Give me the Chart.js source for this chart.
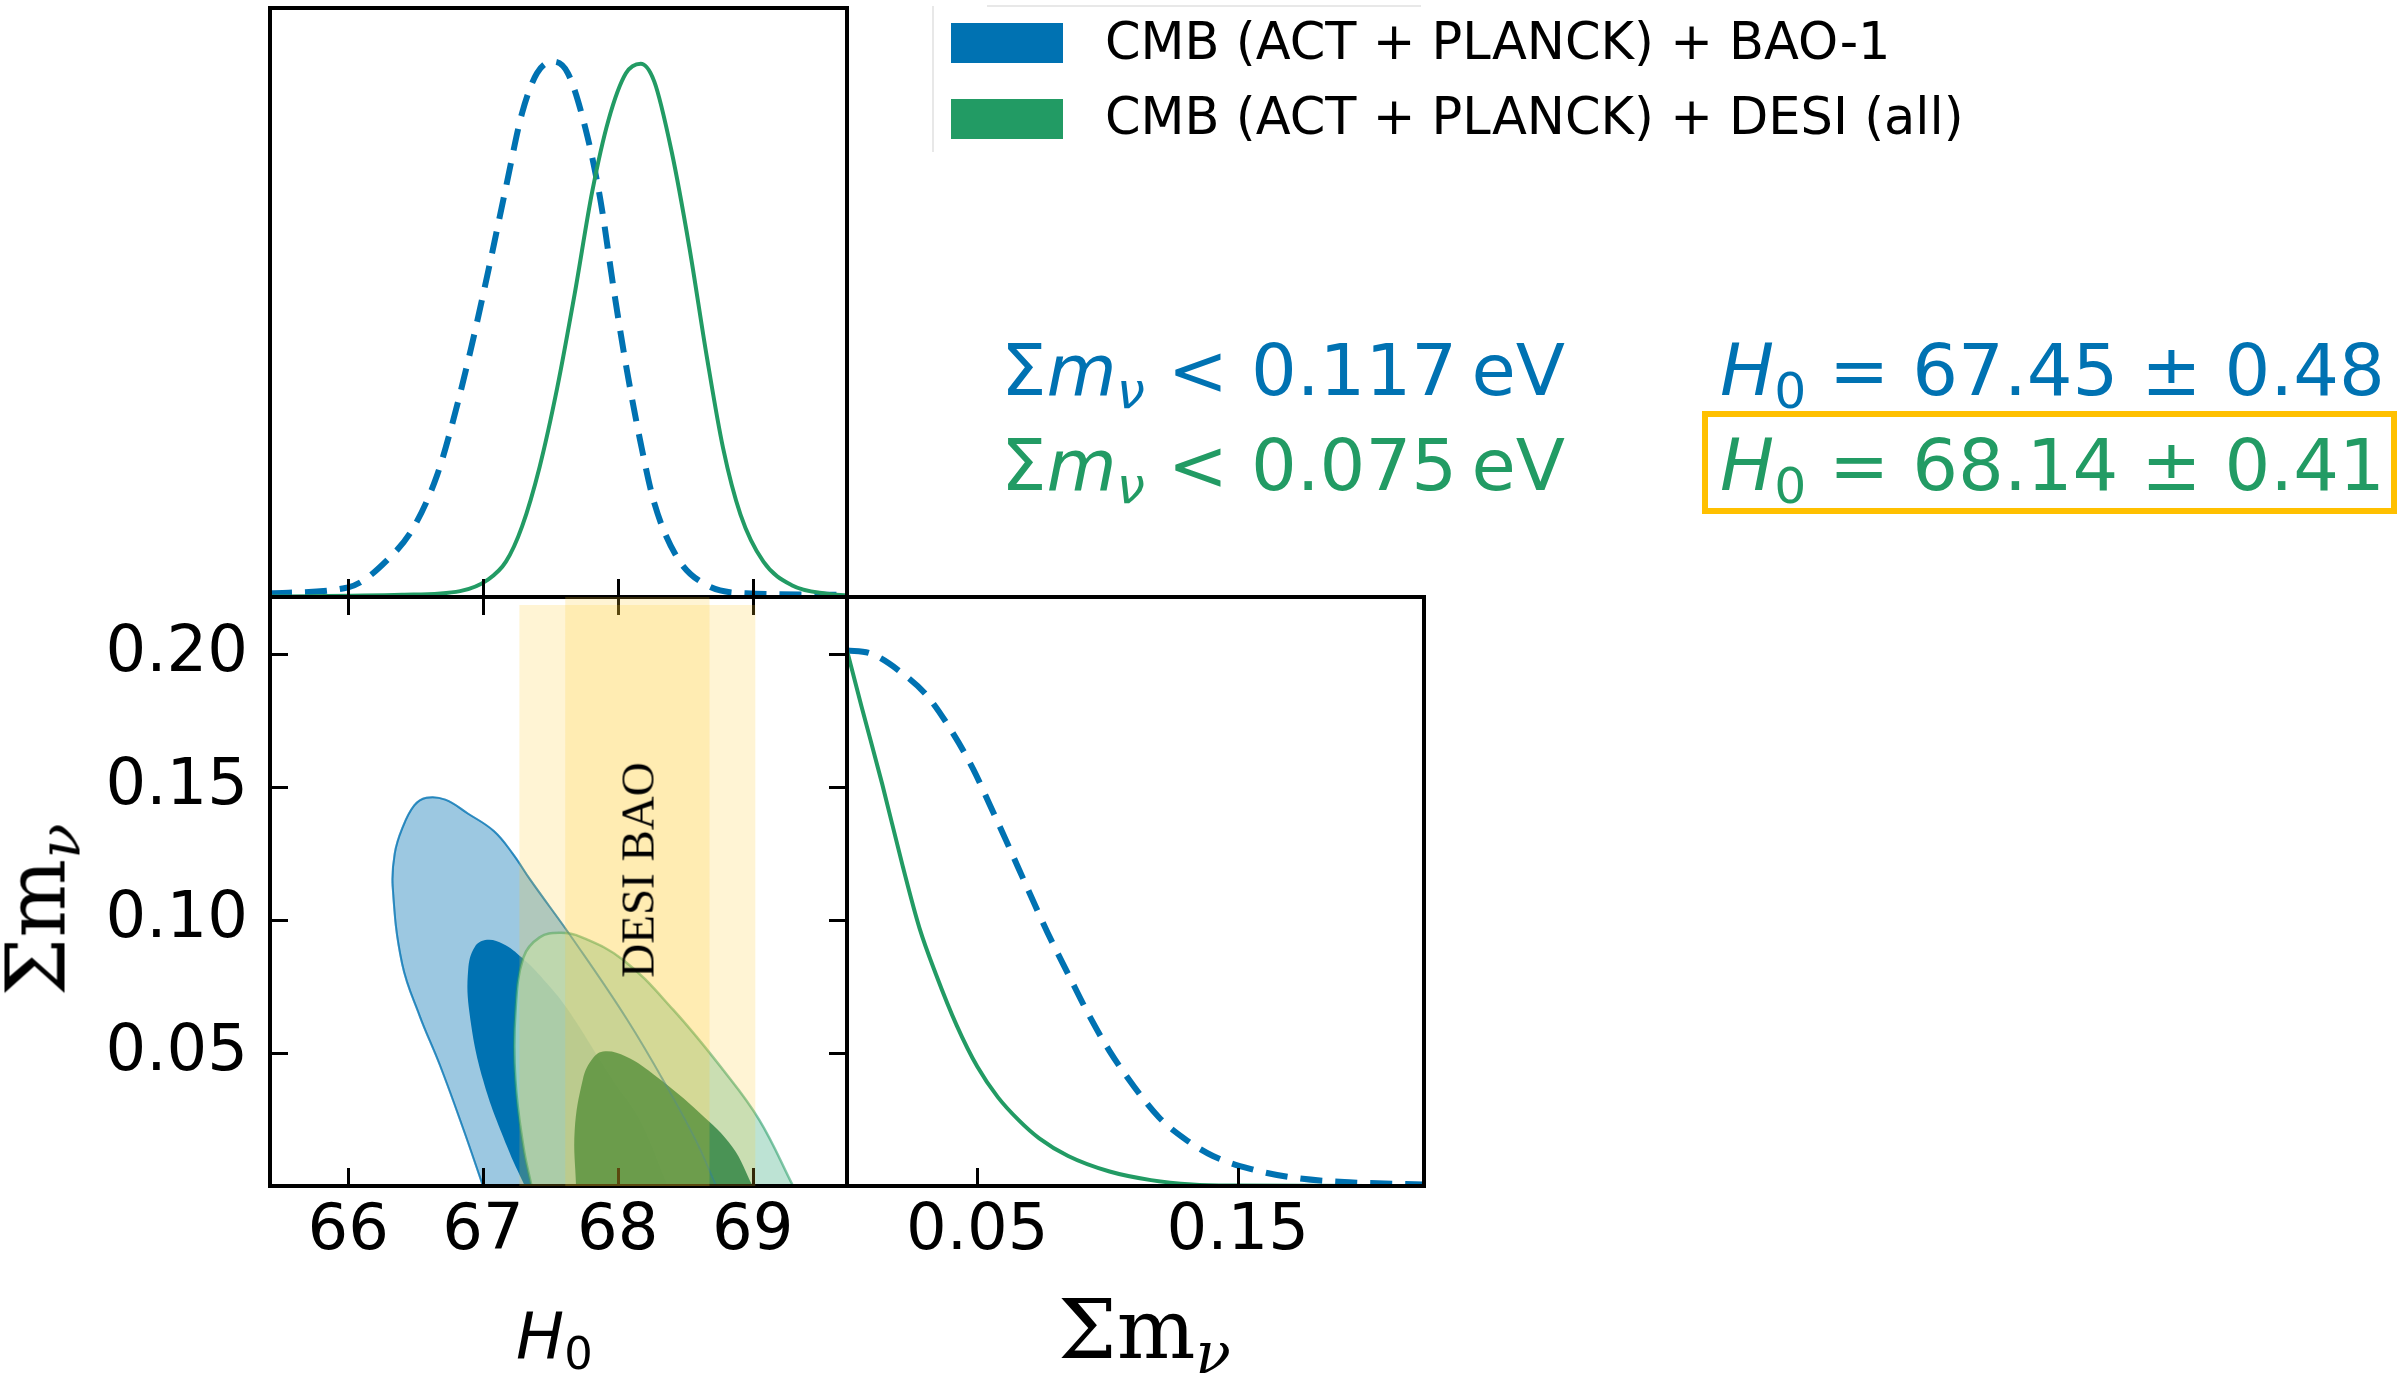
<!DOCTYPE html>
<html>
<head>
<meta charset="utf-8">
<script src="https://cdn.jsdelivr.net/npm/chart.js@4.4.1/dist/chart.umd.min.js"></script>
<style>
  html, body { margin: 0; padding: 0; background: #fff; }
  #wrap { position: relative; width: 2407px; height: 1383px; overflow: hidden; font-family: "DejaVu Sans", sans-serif; }
  canvas { position: absolute; left: 0; top: 0; }
  .t { position: absolute; white-space: nowrap; line-height: 1; }
  .s { font-size: 0.7em; position: relative; top: 0.25em; }
  .serif { font-family: "DejaVu Serif", serif; }
  .times { font-family: "Liberation Serif", "Times New Roman", serif; }
  .rot { transform: translate(-50%, -50%) rotate(-90deg); }
</style>
</head>
<body>
<div id="wrap">
  <canvas id="cTop" width="2407" height="1383"></canvas>
  <canvas id="c2d" width="2407" height="1383"></canvas>
  <canvas id="cRight" width="2407" height="1383"></canvas>

  <!-- legend -->
  <div style="position:absolute;left:987px;top:5px;width:434px;height:2px;background:#e8e8e8"></div>
  <div style="position:absolute;left:932px;top:6px;width:2px;height:146px;background:#e8e8e8"></div>
  <div style="position:absolute;left:951px;top:23px;width:112px;height:40px;background:#0072b2"></div>
  <div style="position:absolute;left:951px;top:99px;width:112px;height:40px;background:#229b64"></div>
  <div class="t" style="left:1105px;top:16px;font-size:51px">CMB (ACT + PLANCK) + BAO-1</div>
  <div class="t" style="left:1105px;top:91px;font-size:51px">CMB (ACT + PLANCK) + DESI (all)</div>

  <!-- constraints -->
  <div class="t" style="left:1001px;top:334px;font-size:72px;color:#0072b2">Σ<i>m</i><span class="s"><i>ν</i></span> &lt; 0.117&thinsp;eV</div>
  <div class="t" style="left:1001px;top:429px;font-size:72px;color:#229b64">Σ<i>m</i><span class="s"><i>ν</i></span> &lt; 0.075&thinsp;eV</div>
  <div class="t" style="left:1720px;top:334px;font-size:72px;color:#0072b2"><i>H</i><span class="s">0</span> = 67.45 ± 0.48</div>
  <div class="t" style="left:1720px;top:429px;font-size:72px;color:#229b64"><i>H</i><span class="s">0</span> = 68.14 ± 0.41</div>
  <div style="position:absolute;left:1702px;top:411px;width:695px;height:103px;border:6px solid #ffc000;box-sizing:border-box"></div>

  <!-- axis titles -->
  <div class="t" style="left:516px;top:1304px;font-size:64px"><i>H</i><span class="s">0</span></div>
  <div class="t serif" style="left:1058px;top:1288px;font-size:83px">Σm<span class="s"><i>ν</i></span></div>
  <div class="t serif rot" style="left:36px;top:910px;font-size:83px">Σm<span class="s"><i>ν</i></span></div>
  <div class="t times rot" style="left:638px;top:870px;font-size:47px">DESI BAO</div>
</div>

<script>
const BLUE = '#0072b2';
const GREEN = '#229b64';

// axis ranges and ticks
const h0Range = [65.42, 69.70];
const mnuRange = [0, 0.2215];
const densRange = [0, 1.1];
const h0Ticks = [66, 67, 68, 69];
const mnuTicksY = [0.05, 0.10, 0.15, 0.20];
const mnuTicksX = [0.05, 0.15];

// 1D posterior of H0 (peak normalised to 1)
const h0BlueX  = [65.42, 66.0, 66.31, 66.49, 66.66, 66.78, 66.91, 67.04, 67.17, 67.29, 67.40, 67.52, 67.63, 67.76, 67.87, 67.97, 68.06, 68.17, 68.27, 68.44, 68.66, 68.95, 69.70];
const h0BlueY  = [0.007, 0.018, 0.074, 0.132, 0.228, 0.331, 0.463, 0.610, 0.765, 0.904, 0.978, 1.0, 0.978, 0.875, 0.743, 0.574, 0.434, 0.287, 0.176, 0.074, 0.022, 0.007, 0.004];
const h0GreenX = [65.42, 66.40, 66.83, 67.04, 67.17, 67.29, 67.42, 67.55, 67.68, 67.81, 67.93, 68.06, 68.17, 68.27, 68.40, 68.53, 68.66, 68.78, 68.91, 69.08, 69.29, 69.55, 69.70];
const h0GreenY = [0.001, 0.004, 0.011, 0.033, 0.066, 0.132, 0.243, 0.390, 0.566, 0.757, 0.890, 0.978, 0.996, 0.963, 0.831, 0.654, 0.449, 0.279, 0.154, 0.066, 0.022, 0.006, 0.003];

// 1D posterior of sum m_nu
const mnuBlueX  = [0, 0.0087, 0.0214, 0.031, 0.0405, 0.0484, 0.0548, 0.0611, 0.069, 0.077, 0.0849, 0.0929, 0.1008, 0.1103, 0.1198, 0.1294, 0.1405, 0.1548, 0.1722, 0.1929, 0.2215];
const mnuBlueY  = [1.0, 0.995, 0.957, 0.914, 0.847, 0.779, 0.712, 0.645, 0.559, 0.473, 0.396, 0.319, 0.252, 0.185, 0.128, 0.089, 0.056, 0.032, 0.015, 0.007, 0.003];
const mnuGreenX = [0, 0.0056, 0.0135, 0.0214, 0.0278, 0.0341, 0.0421, 0.05, 0.0579, 0.0659, 0.0738, 0.0849, 0.1008, 0.1167, 0.1325, 0.1484, 0.2215];
const mnuGreenY = [1.0, 0.895, 0.751, 0.597, 0.482, 0.396, 0.300, 0.223, 0.166, 0.123, 0.089, 0.056, 0.027, 0.011, 0.003, 0.001, 0.0];

// 2D contours (H0, sum m_nu), 68% and 95%
const blueOuterH0  = [67.00, 66.85, 66.68, 66.53, 66.40, 66.33, 66.345, 66.40, 66.49, 66.58, 66.72, 66.89, 67.08, 67.22, 67.35, 67.67, 68.07, 68.39, 68.58, 68.73];
const blueOuterMnu = [0, 0.022, 0.0455, 0.064, 0.0836, 0.1126, 0.125, 0.1344, 0.1431, 0.146, 0.1453, 0.140, 0.1335, 0.125, 0.1152, 0.0926, 0.0625, 0.035, 0.017, 0];
const blueInnerH0  = [67.31, 67.18, 67.00, 66.90, 66.89, 66.94, 67.03, 67.15, 67.29, 67.45, 67.62, 67.96, 68.16, 68.37];
const blueInnerMnu = [0, 0.0147, 0.040, 0.065, 0.0813, 0.090, 0.0926, 0.091, 0.0858, 0.0776, 0.067, 0.040, 0.025, 0];
const greenOuterH0  = [67.36, 67.30, 67.24, 67.24, 67.30, 67.42, 67.57, 67.72, 68.04, 68.41, 68.78, 69.05, 69.30];
const greenOuterMnu = [0, 0.0147, 0.040, 0.065, 0.086, 0.0935, 0.0952, 0.0938, 0.085, 0.0663, 0.0437, 0.0248, 0];
const greenInnerH0  = [67.69, 67.68, 67.74, 67.80, 67.89, 68.06, 68.29, 68.61, 68.85, 69.00];
const greenInnerMnu = [0, 0.021, 0.040, 0.047, 0.0506, 0.0487, 0.041, 0.0274, 0.0147, 0];

// DESI BAO H0 bands
const desiWide = [67.27, 69.02];
const desiNarrow = [67.61, 68.68];
const desiTop = [0.2185, 0.2215];

const W = 2407, H = 1383;
const pts = (xs, ys) => xs.map((x, i) => ({ x, y: ys[i] }));
const rect = (band, top) => [{ x: band[0], y: 0 }, { x: band[0], y: top }, { x: band[1], y: top }, { x: band[1], y: 0 }];

function drawFrame(chart, opts) {
  if (chart.$frameDone) return;
  chart.$frameDone = true;
  const { ctx, chartArea: a, scales } = chart;
  const len = 18;
  ctx.save();
  ctx.strokeStyle = '#000';
  ctx.lineWidth = 3;
  (opts.x || []).forEach(side => {
    scales.x.ticks.forEach(t => {
      const px = Math.round(scales.x.getPixelForValue(t.value)) + 0.5;
      const y0 = side === 'bottom' ? a.bottom : a.top;
      const d = side === 'bottom' ? -len : len;
      ctx.beginPath(); ctx.moveTo(px, y0); ctx.lineTo(px, y0 + d); ctx.stroke();
    });
  });
  (opts.y || []).forEach(side => {
    scales.y.ticks.forEach(t => {
      const py = Math.round(scales.y.getPixelForValue(t.value)) + 0.5;
      const x0 = side === 'left' ? a.left : a.right;
      const d = side === 'left' ? len : -len;
      ctx.beginPath(); ctx.moveTo(x0, py); ctx.lineTo(x0 + d, py); ctx.stroke();
    });
  });
  ctx.lineWidth = 4;
  ctx.strokeRect(a.left, a.top, a.right - a.left, a.bottom - a.top);
  ctx.restore();
}

const panelFrame = {
  id: 'panelFrame',
  beforeDraw(chart) { chart.$frameDone = false; },
  afterDatasetDraw(chart, args, opts) {
    if (chart.data.datasets[args.index].frameAfter) drawFrame(chart, opts);
  },
  afterDatasetsDraw(chart, args, opts) { drawFrame(chart, opts); }
};

const tickFont = { family: 'DejaVu Sans', size: 64 };
const XAXIS_H = 150;   // room under the panels for tick labels

function axis(range, ticks, opts) {
  return Object.assign({
    type: 'linear',
    min: range[0],
    max: range[1],
    grid: { display: false, drawTicks: false },
    border: { display: false },
    afterBuildTicks: s => { s.ticks = ticks.map(v => ({ value: v })); },
    ticks: { display: false, font: tickFont, color: '#000', maxRotation: 0, autoSkip: false }
  }, opts || {});
}

function baseOptions(padding, scales, frame) {
  return {
    responsive: false,
    animation: false,
    devicePixelRatio: 1,
    events: [],
    layout: { autoPadding: false, padding },
    plugins: { legend: { display: false }, tooltip: { enabled: false }, panelFrame: frame },
    scales
  };
}

function curve(xs, ys, color, width, dash) {
  return {
    data: pts(xs, ys),
    borderColor: color,
    borderWidth: width,
    borderDash: dash || [],
    pointRadius: 0,
    fill: false,
    cubicInterpolationMode: 'monotone'
  };
}

// top: H0 1D
new Chart(document.getElementById('cTop'), {
  type: 'line',
  data: { datasets: [
    curve(h0GreenX, h0GreenY, GREEN, 4),
    curve(h0BlueX, h0BlueY, BLUE, 6, [22, 13])
  ] },
  options: baseOptions({ left: 270, top: 8, right: W - 847, bottom: H - 597 }, {
    x: axis(h0Range, h0Ticks, { afterFit: s => { s.height = 0; } }),
    y: axis(densRange, [], { display: false, afterFit: s => { s.width = 0; } })
  }, { x: ['bottom'] }),
  plugins: [panelFrame]
});

// 2D: H0 vs sum m_nu
function contour(xs, ys, fillColor, lineColor, lineWidth, order) {
  return {
    data: pts(xs, ys),
    fill: fillColor ? 'shape' : false,
    backgroundColor: fillColor || 'rgba(0,0,0,0)',
    borderColor: lineColor,
    borderWidth: lineWidth,
    pointRadius: 0,
    tension: 0.4,
    order
  };
}
function band(b, top) {
  return {
    data: rect(b, top),
    fill: 'shape',
    backgroundColor: 'rgba(255,200,40,0.2)',
    borderWidth: 0,
    pointRadius: 0,
    tension: 0.000001,
    clip: 0,
    order: 0
  };
}
const blueOuterEdge = contour(blueOuterH0, blueOuterMnu, null, 'rgba(0,114,178,0.55)', 2, 1);
blueOuterEdge.frameAfter = true;

new Chart(document.getElementById('c2d'), {
  type: 'line',
  data: { datasets: [
    band(desiWide, desiTop[0]),
    band(desiNarrow, desiTop[1]),
    blueOuterEdge,
    contour(greenInnerH0, greenInnerMnu, 'rgba(12,124,84,0.9)', 'rgba(12,124,84,0)', 0, 2),
    contour(greenOuterH0, greenOuterMnu, 'rgba(178,222,204,0.85)', 'rgba(34,155,100,0.55)', 2.5, 3),
    contour(blueInnerH0, blueInnerMnu, BLUE, BLUE, 0, 4),
    contour(blueOuterH0, blueOuterMnu, 'rgba(0,114,178,0.39)', 'rgba(0,114,178,0.55)', 2, 5)
  ] },
  options: baseOptions({ left: 0, top: 597, right: W - 847, bottom: H - 1186 - XAXIS_H }, {
    x: axis(h0Range, h0Ticks, {
      afterFit: s => { s.height = XAXIS_H; },
      ticks: { display: true, font: tickFont, color: '#000', padding: 8, maxRotation: 0, autoSkip: false, callback: v => String(v) }
    }),
    y: axis(mnuRange, mnuTicksY, {
      afterFit: s => { s.width = 270; },
      ticks: { display: true, font: tickFont, color: '#000', padding: 22, autoSkip: false, callback: v => v.toFixed(2) }
    })
  }, { x: ['bottom', 'top'], y: ['left', 'right'] }),
  plugins: [panelFrame]
});

// right: sum m_nu 1D
new Chart(document.getElementById('cRight'), {
  type: 'line',
  data: { datasets: [
    curve(mnuGreenX, mnuGreenY, GREEN, 4),
    curve(mnuBlueX, mnuBlueY, BLUE, 6, [22, 13])
  ] },
  options: baseOptions({ left: 847, top: 597, right: W - 1424, bottom: H - 1186 - XAXIS_H }, {
    x: axis(mnuRange, mnuTicksX, {
      afterFit: s => { s.height = XAXIS_H; },
      ticks: { display: true, font: tickFont, color: '#000', padding: 8, maxRotation: 0, autoSkip: false, callback: v => v.toFixed(2) }
    }),
    y: axis(densRange, [], { display: false, afterFit: s => { s.width = 0; } })
  }, { x: ['bottom'] }),
  plugins: [panelFrame]
});
</script>
</body>
</html>
